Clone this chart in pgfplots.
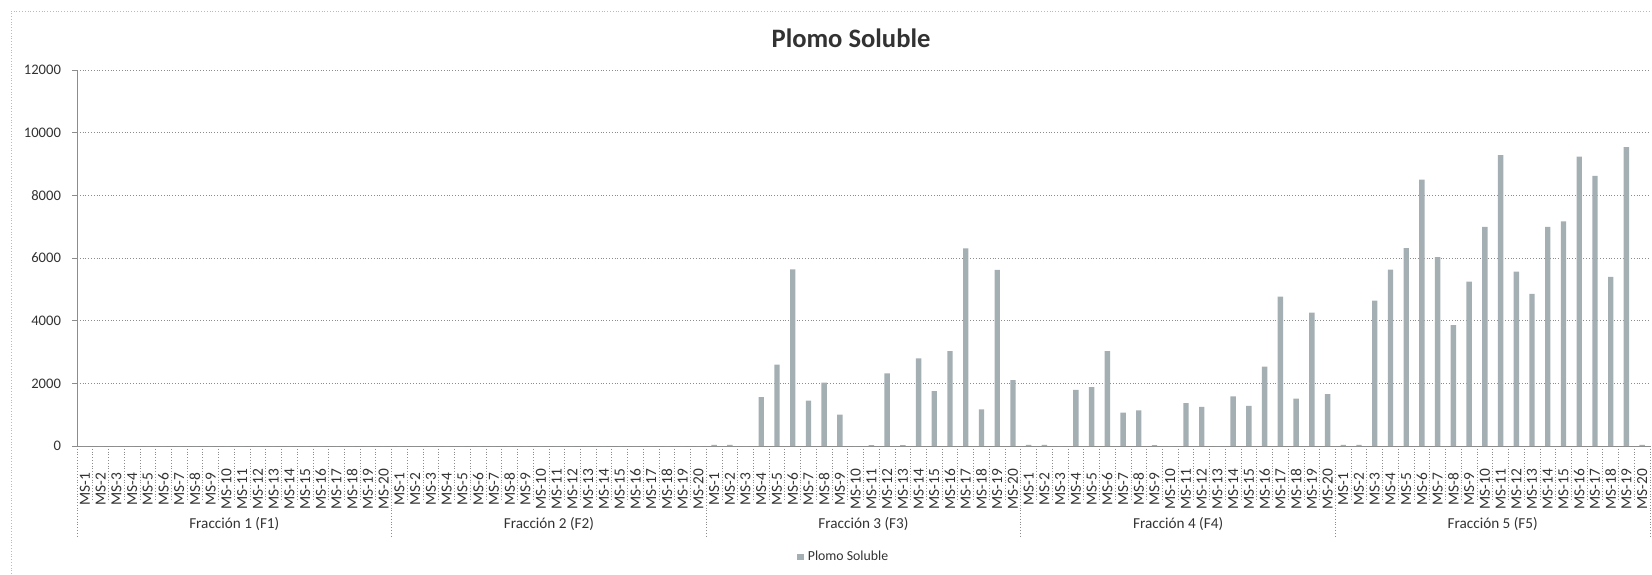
\documentclass[border=0pt]{standalone}
\usepackage{fontspec}
\setmainfont{Carlito}
\usepackage{pgfplots}
\pgfplotsset{compat=1.18}
\definecolor{barc}{RGB}{163,175,179}
\definecolor{gridc}{RGB}{140,140,140}
\definecolor{txt}{RGB}{50,50,50}

\pgfplotstableread{
x y
0 0
1 0
2 0
3 0
4 0
5 0
6 0
7 0
8 0
9 0
10 0
11 0
12 0
13 0
14 0
15 0
16 0
17 0
18 0
19 0
20 0
21 0
22 0
23 0
24 0
25 0
26 0
27 0
28 0
29 0
30 0
31 0
32 0
33 0
34 0
35 0
36 0
37 0
38 0
39 0
40 40
41 40
42 0
43 1560
44 2600
45 5640
46 1450
47 2020
48 1000
49 0
50 30
51 2320
52 30
53 2800
54 1750
55 3030
56 6310
57 1170
58 5620
59 2100
60 40
61 40
62 0
63 1790
64 1880
65 3030
66 1065
67 1140
68 30
69 0
70 1370
71 1245
72 0
73 1585
74 1280
75 2535
76 4770
77 1513
78 4256
79 1653
80 40
81 40
82 4640
83 5630
84 6315
85 8500
86 6027
87 3860
88 5248
89 6997
90 9280
91 5568
92 4853
93 6997
94 7168
95 9237
96 8619
97 5397
98 9536
99 40
}\plomo

\begin{document}
\begin{tikzpicture}
\useasboundingbox (-38.5pt,-64pt) rectangle (787.5pt,223pt);
\draw[gridc!60, densely dotted] (-33pt,-64pt) -- (-33pt,217.5pt) -- (787.5pt,217.5pt);
\node[font=\bfseries\fontsize{13.3}{15}\selectfont, text=txt] at (387pt,204pt) {Plomo Soluble};
\begin{axis}[
  at={(0,0)}, anchor=south west,
  scale only axis,
  width=786.5pt, height=188pt,
  xmin=-0.5, xmax=99.5,
  ymin=0, ymax=12000,
  ytick={0,2000,...,12000},
  xtick={0,1,...,99},
  xticklabel={\makebox[20pt][c]{MS-\pgfmathtruncatemacro\k{mod(round(\tick),20)+1}\k}},
  x tick label style={rotate=90, anchor=east, xshift=-5.5pt,
    font=\fontsize{7.7}{9}\selectfont, text=txt},
  y tick label style={xshift=-2pt, font=\fontsize{7.3}{9}\selectfont, text=txt},
  /pgf/number format/assume math mode=true,
  scaled y ticks=false,
  yticklabel style={/pgf/number format/fixed, /pgf/number format/1000 sep={}},
  axis lines*=left,
  axis line style={gridc, line width=0.5pt},
  tick align=outside,
  major tick length=2.5pt,
  xtick style={draw=none},
  ytick style={gridc},
  ymajorgrids,
  grid style={gridc, densely dotted, line width=0.5pt},
  clip=false,
  ybar, bar width=2.7pt,
  legend style={at={(0.488,-0.295)}, anchor=center, draw=none,
    font=\fontsize{6.9}{8}\selectfont, text=txt},
  legend image code/.code={\fill[barc] (0pt,-1.7pt) rectangle (3.4pt,1.7pt);},
]
\addplot[fill=barc, draw=none] table[x=x, y=y] {\plomo};
\addlegendentry{Plomo Soluble}
\pgfplotsinvokeforeach{-0.5,0.5,...,99.5}{
  \draw[gridc, densely dotted, line width=0.4pt] (axis cs:#1,0) -- ([yshift=-28pt]axis cs:#1,0);
}
\pgfplotsinvokeforeach{-0.5,19.5,39.5,59.5,79.5,99.5}{
  \draw[gridc, densely dotted, line width=0.4pt] (axis cs:#1,0) -- ([yshift=-46pt]axis cs:#1,0);
}
\node[font=\fontsize{7.6}{9}\selectfont, text=txt] at ([yshift=-39pt]axis cs:9.5,0) {Fracción 1 (F1)};
\node[font=\fontsize{7.6}{9}\selectfont, text=txt] at ([yshift=-39pt]axis cs:29.5,0) {Fracción 2 (F2)};
\node[font=\fontsize{7.6}{9}\selectfont, text=txt] at ([yshift=-39pt]axis cs:49.5,0) {Fracción 3 (F3)};
\node[font=\fontsize{7.6}{9}\selectfont, text=txt] at ([yshift=-39pt]axis cs:69.5,0) {Fracción 4 (F4)};
\node[font=\fontsize{7.6}{9}\selectfont, text=txt] at ([yshift=-39pt]axis cs:89.5,0) {Fracción 5 (F5)};
\end{axis}
\end{tikzpicture}
\end{document}
